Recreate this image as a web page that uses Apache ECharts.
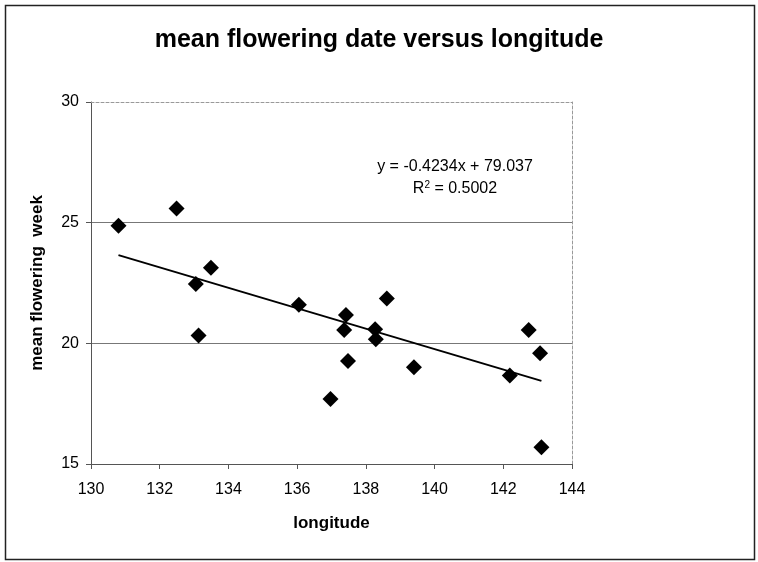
<!DOCTYPE html>
<html><head><meta charset="utf-8">
<script src="https://cdn.jsdelivr.net/npm/echarts@6/dist/echarts.min.js"></script>
<style>html,body{margin:0;padding:0;background:#fff}#c{width:758px;height:562px}</style>
</head><body><div id="c"></div>
<script>
const longitude = [130.8, 132.49, 133.05, 133.13, 133.49, 136.05, 136.97, 137.37, 137.42, 137.48, 138.27, 138.29, 138.61, 139.4, 142.19, 142.74, 143.07, 143.11];
const floweringWeek = [24.87, 25.59, 22.46, 20.32, 23.13, 21.6, 17.69, 20.55, 21.17, 19.27, 20.58, 20.17, 21.86, 19.01, 18.67, 20.55, 19.59, 15.69];
const trendSlope = -0.4234;
const trendIntercept = 79.037;
const rSquared = '0.5002';
const xRange = [130, 144, 2];
const yRange = [15, 30, 5];

const FONT = '"Liberation Sans", Arial, sans-serif';
const points = longitude.map((x, i) => [x, floweringWeek[i]]);
const xMin = Math.min(...longitude), xMax = Math.max(...longitude);
const trend = [[xMin, trendSlope * xMin + trendIntercept], [xMax, trendSlope * xMax + trendIntercept]];

const chart = echarts.init(document.getElementById('c'), null, {renderer: 'canvas'});
chart.setOption({
  animation: false,
  backgroundColor: '#fff',
  title: {
    text: 'mean flowering date versus longitude',
    left: 'center', top: 23,
    textStyle: {fontFamily: FONT, fontSize: 25, fontWeight: 'bold', color: '#000'}
  },
  grid: {left: 91, top: 102, right: 186, bottom: 98},
  xAxis: [{
    type: 'value', min: xRange[0], max: xRange[1], interval: xRange[2],
    axisLine: {onZero: false, lineStyle: {color: '#555', width: 1}},
    axisTick: {show: true, inside: false, length: 5, lineStyle: {color: '#555'}},
    axisLabel: {fontFamily: FONT, fontSize: 16, color: '#000', margin: 18},
    splitLine: {show: false},
    name: 'longitude', nameLocation: 'middle', nameGap: 51,
    nameTextStyle: {fontFamily: FONT, fontSize: 17, fontWeight: 'bold', color: '#000'}
  }, {
    type: 'value', position: 'top', min: xRange[0], max: xRange[1], interval: xRange[2],
    axisLine: {onZero: false, lineStyle: {color: '#999', type: [3, 2], width: 1}},
    axisTick: {show: false}, axisLabel: {show: false}, splitLine: {show: false}
  }],
  yAxis: [{
    type: 'value', min: yRange[0], max: yRange[1], interval: yRange[2],
    axisLine: {show: true, onZero: false, lineStyle: {color: '#555', width: 1}},
    axisTick: {show: true, inside: false, length: 5, lineStyle: {color: '#555'}},
    axisLabel: {fontFamily: FONT, fontSize: 16, color: '#000', margin: 12},
    splitLine: {show: true, lineStyle: {color: ['transparent', '#777', '#777', 'transparent'], width: 1}},
    name: 'mean flowering  week', nameLocation: 'middle', nameGap: 45,
    nameTextStyle: {fontFamily: FONT, fontSize: 17, fontWeight: 'bold', color: '#000'}
  }, {
    type: 'value', position: 'right', min: yRange[0], max: yRange[1], interval: yRange[2],
    axisLine: {show: true, onZero: false, lineStyle: {color: '#999', type: [3, 2], width: 1}},
    axisTick: {show: false}, axisLabel: {show: false}, splitLine: {show: false}
  }],
  series: [{
    type: 'line', data: trend, showSymbol: false, symbol: 'none', z: 2,
    lineStyle: {color: '#000', width: 2}, silent: true
  }, {
    type: 'scatter', data: points, symbol: 'diamond', symbolSize: 16, z: 3,
    itemStyle: {color: '#000', opacity: 1}
  }],
  graphic: [{
    type: 'rect', left: 3, top: 3, z: 100, silent: true,
    shape: {width: 749, height: 554},
    style: {fill: 'none', stroke: '#222', lineWidth: 1.5}
  }, {
    type: 'text', x: 455, y: 167, z: 100,
    style: {text: 'y = ' + trendSlope + 'x + ' + trendIntercept, font: '16px ' + FONT, fill: '#000', align: 'center', verticalAlign: 'middle'}
  }, {
    type: 'text', x: 455, y: 189, z: 100,
    style: {
      text: 'R{sup|2} = ' + rSquared, font: '16px ' + FONT, fill: '#000', align: 'center', verticalAlign: 'middle',
      rich: {sup: {fontSize: 10, fontFamily: FONT, verticalAlign: 'top', padding: [0, 0, 8, 0]}}
    }
  }]
});
</script></body></html>
